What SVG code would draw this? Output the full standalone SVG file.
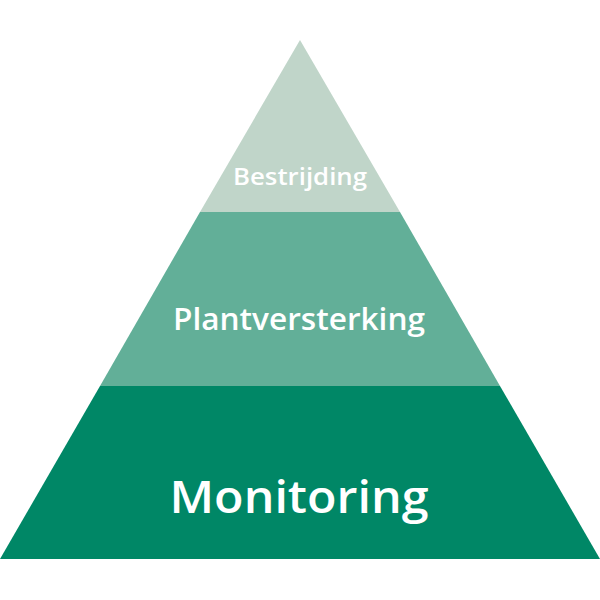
<svg xmlns="http://www.w3.org/2000/svg" width="600" height="600" viewBox="0 0 600 600">
<style>
.lbl{font-family:"Open Sans","Liberation Sans",sans-serif;fill:#ffffff;text-anchor:middle}
</style>
<rect width="600" height="600" fill="#ffffff"/>
<g id="tier-top">
<polygon points="300,40 400,212 200,212" fill="#c0d5c9"/>
<text class="lbl" x="300" y="185" font-size="24" font-weight="600" textLength="134" lengthAdjust="spacingAndGlyphs">Bestrijding</text>
</g>
<g id="tier-middle">
<polygon points="200,212 400,212 500,386 100,386" fill="#62af98"/>
<text class="lbl" x="299" y="330" font-size="30" font-weight="600" textLength="252" lengthAdjust="spacingAndGlyphs">Plantversterking</text>
</g>
<g id="tier-bottom">
<polygon points="100,386 500,386 600,559 0,559" fill="#008766"/>
<text class="lbl" x="299" y="513" font-size="46" font-weight="600" textLength="259" lengthAdjust="spacingAndGlyphs">Monitoring</text>
</g>
<g id="connectors"/>
</svg>
